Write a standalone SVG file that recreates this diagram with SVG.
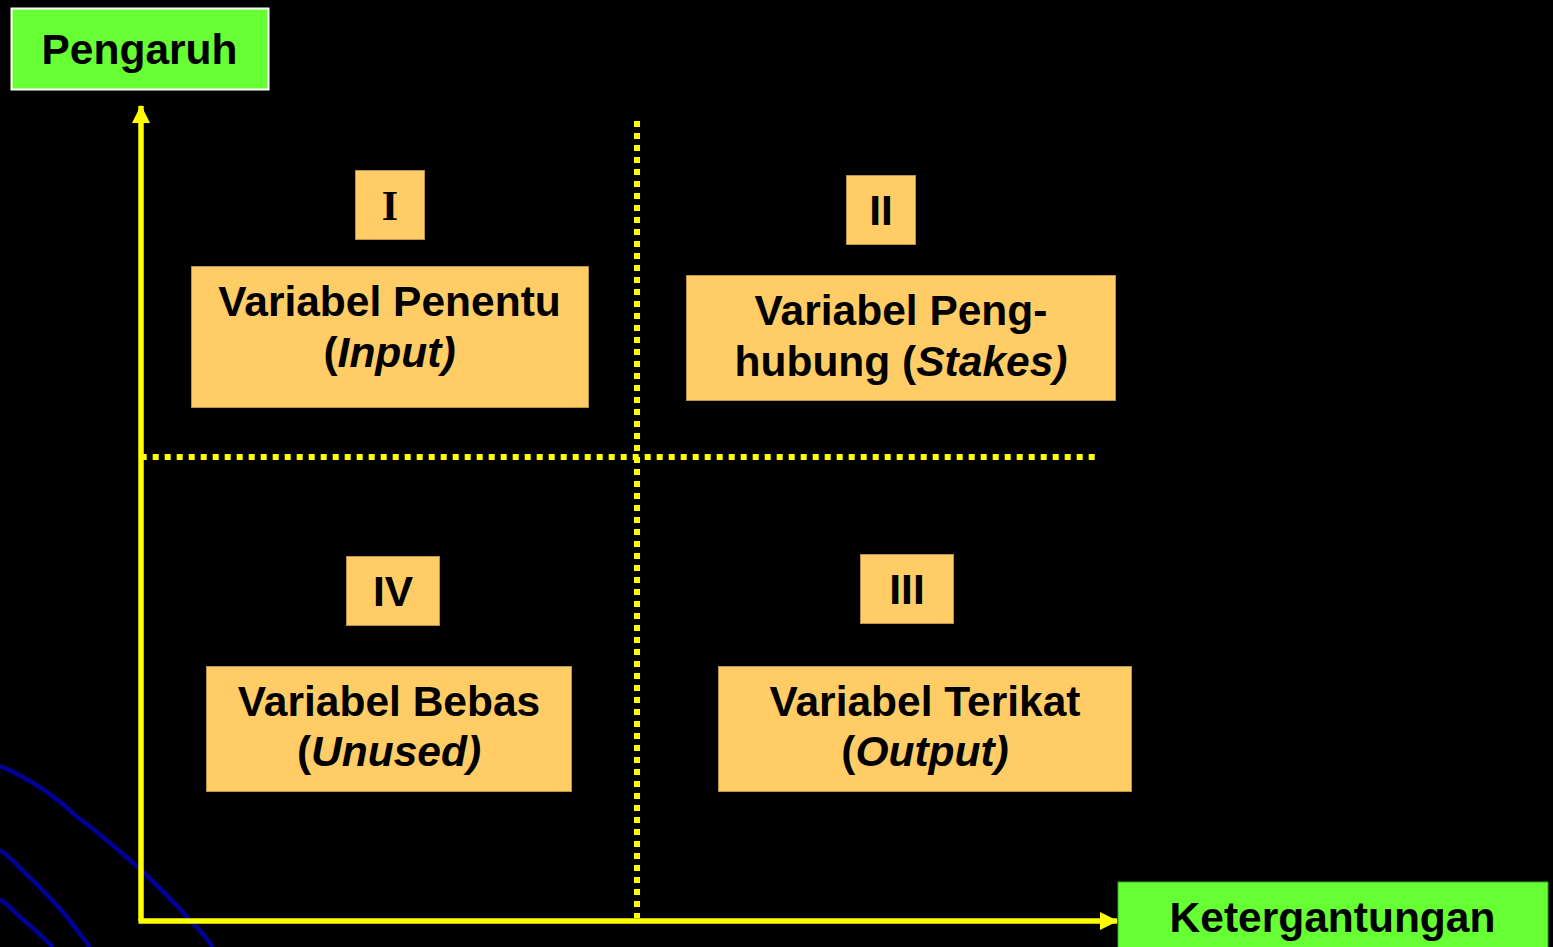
<svg xmlns="http://www.w3.org/2000/svg" width="1553" height="947" viewBox="0 0 1553 947">
  <style>
    .bg { fill: #000000; }
    .curve { fill: none; stroke: #000099; stroke-width: 4.5; }
    .axis { stroke: #FFFF00; stroke-width: 5.5; fill: none; }
    .dots { stroke: #FFFF00; stroke-width: 6; stroke-dasharray: 6 6; fill: none; }
    .label { fill: #66FF33; }
    .box { fill: #FFCC66; stroke: #B8924A; stroke-width: 1; }
    .t { font-family: "Liberation Sans", Arial, sans-serif; font-weight: bold; font-size: 42.5px; fill: #000000; text-anchor: middle; }
    .serif { font-family: "Liberation Serif", "Times New Roman", serif; font-weight: bold; font-size: 42px; fill: #000000; text-anchor: middle; }
    .i { font-style: italic; }
  </style>
  <defs>
    <marker id="arrow" viewBox="0 0 18 18" refX="17" refY="9" markerWidth="18" markerHeight="18" markerUnits="userSpaceOnUse" orient="auto">
      <path d="M0,0 L18,9 L0,18 Z" fill="#FFFF00"/>
    </marker>
  </defs>
  <rect class="bg" x="0" y="0" width="1553" height="947"/>

  <g id="background-curves">
    <path class="curve" d="M0,766 C30,778 60,800 77,817 C100,833 120,852 138,867 C160,888 175,903 187,917 C198,928 206,937 213,947"/>
    <path class="curve" d="M0,850 C5,853 8,856 10,858 C30,878 50,896 67,917 C75,927 82,937 90,947"/>
    <path class="curve" d="M0,899 C8,905 14,911 20,917 C32,927 43,937 53,947"/>
  </g>

  <g id="connectors">
    <line class="dots" x1="140.7" y1="457" x2="1095" y2="457"/>
    <line class="dots" x1="637" y1="121" x2="637" y2="918"/>
    <line class="axis" x1="141" y1="921" x2="141" y2="106" marker-end="url(#arrow)"/>
    <line class="axis" x1="138.5" y1="921" x2="1117" y2="921" marker-end="url(#arrow)"/>
  </g>

  <g id="label-pengaruh">
    <rect x="11.5" y="8.5" width="257" height="81" fill="#66FF33" stroke="#FFFFFF" stroke-width="2"/>
    <text class="t" x="139.5" y="64">Pengaruh</text>
  </g>

  <g id="label-ketergantungan">
    <rect class="label" x="1118" y="882" width="430" height="70" stroke="#33AA22" stroke-width="1"/>
    <text class="t" x="1332.5" y="932">Ketergantungan</text>
  </g>

  <g id="quadrant-I">
    <rect class="box" x="355.5" y="170.5" width="69" height="69"/>
    <text class="serif" x="390" y="220">I</text>
  </g>
  <g id="node-penentu">
    <rect class="box" x="191.5" y="266.5" width="397" height="141"/>
    <text class="t" x="389.5" y="316">Variabel Penentu</text>
    <text class="t" x="389.5" y="367">(<tspan class="i">Input)</tspan></text>
  </g>

  <g id="quadrant-II">
    <rect class="box" x="846.5" y="175.5" width="69" height="69"/>
    <text class="t" x="881" y="225">II</text>
  </g>
  <g id="node-penghubung">
    <rect class="box" x="686.5" y="275.5" width="429" height="125"/>
    <text class="t" x="901" y="325">Variabel Peng-</text>
    <text class="t" x="901" y="376">hubung (<tspan class="i">Stakes)</tspan></text>
  </g>

  <g id="quadrant-IV">
    <rect class="box" x="346.5" y="556.5" width="93" height="69"/>
    <text class="t" x="393" y="606">IV</text>
  </g>
  <g id="node-bebas">
    <rect class="box" x="206.5" y="666.5" width="365" height="125"/>
    <text class="t" x="389" y="716">Variabel Bebas</text>
    <text class="t" x="389" y="766">(<tspan class="i">Unused)</tspan></text>
  </g>

  <g id="quadrant-III">
    <rect class="box" x="860.5" y="554.5" width="93" height="69"/>
    <text class="t" x="907" y="604">III</text>
  </g>
  <g id="node-terikat">
    <rect class="box" x="718.5" y="666.5" width="413" height="125"/>
    <text class="t" x="925" y="716">Variabel Terikat</text>
    <text class="t" x="925" y="766">(<tspan class="i">Output)</tspan></text>
  </g>
</svg>
